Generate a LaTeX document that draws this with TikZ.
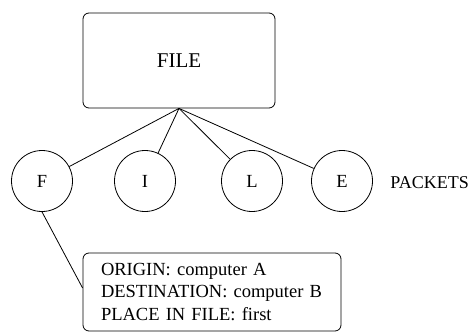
\documentclass[tikz,border=0pt]{standalone}
\usepackage{fontspec}
\setmainfont{Liberation Serif}
\begin{document}
\begin{tikzpicture}[x=1pt,y=1pt,
  every path/.style={line width=0.8pt},
  box/.style={draw, rounded corners=6pt, inner sep=0pt},
  packet/.style={draw, circle, minimum size=61pt, inner sep=0pt, font=\fontsize{18.5}{22}\selectfont},
  lbl/.style={font=\fontsize{18}{22}\selectfont, inner sep=0pt}]
\useasboundingbox (0,0) rectangle (473,333);
\node[box, minimum width=192pt, minimum height=95pt, font=\fontsize{21}{24}\selectfont] (file) at (179,272.5) {FILE};
\node[packet] (f) at (42,152) {F};
\node[packet] (i) at (145,152) {I};
\node[packet] (l) at (252,152) {L};
\node[packet] (e) at (342,152) {E};
\node[lbl, anchor=west] (packets) at (390,150.5) {PACKETS};
\node[box, minimum width=258pt, minimum height=78pt, text width=222pt, align=left,
  font=\fontsize{18.5}{22.5}\selectfont] (info) at (212,41)
  {\mbox{ORIGIN: computer A}\\\mbox{DESTINATION: computer B}\\\mbox{PLACE IN FILE: first}};
\draw (file.south) -- (f);
\draw (file.south) -- (i);
\draw (file.south) -- (l);
\draw (file.south) -- (e);
\draw (f.south) -- ([yshift=4pt]info.west);
\end{tikzpicture}
\end{document}
